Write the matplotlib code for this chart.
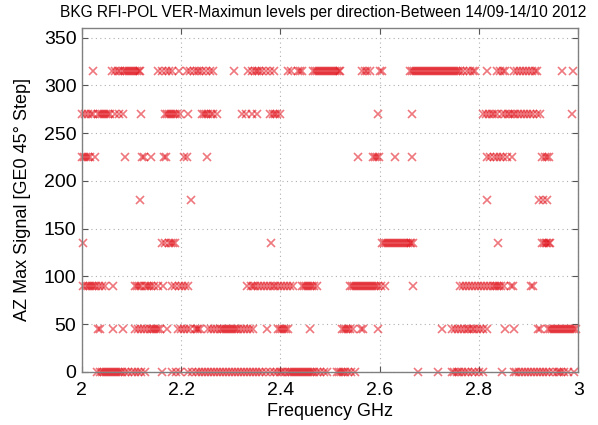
import matplotlib.pyplot as plt

plt.rcParams["font.family"] = ["Liberation Sans", "DejaVu Sans"]

# Frequencies (GHz) where each direction (deg) had the maximum signal
AZ_0 = [2.030, 2.036, 2.040, 2.044, 2.048, 2.052, 2.056, 2.060, 2.064, 2.068,
        2.072, 2.076, 2.080, 2.086, 2.093, 2.100, 2.106, 2.113, 2.120, 2.127,
        2.161, 2.181, 2.190, 2.198,
        2.214, 2.222, 2.230, 2.236, 2.242, 2.248, 2.254, 2.260, 2.266, 2.272,
        2.278, 2.284, 2.290, 2.296, 2.302, 2.308, 2.314, 2.320, 2.326, 2.332,
        2.338, 2.344, 2.350, 2.356, 2.362, 2.370, 2.378, 2.386, 2.393, 2.399,
        2.403, 2.410, 2.416, 2.420, 2.424, 2.428, 2.432, 2.436, 2.440, 2.444,
        2.448, 2.452, 2.456, 2.460, 2.464, 2.468, 2.474, 2.480, 2.487, 2.493,
        2.513, 2.518, 2.522, 2.526, 2.530, 2.536, 2.543, 2.550,
        2.678, 2.718,
        2.745, 2.750, 2.755, 2.760, 2.766, 2.772, 2.778, 2.785, 2.792, 2.800, 2.809,
        2.846,
        2.870, 2.875, 2.880, 2.886, 2.892, 2.898, 2.904, 2.910, 2.916, 2.922,
        2.928, 2.935, 2.942, 2.950, 2.957, 2.962, 2.966, 2.972, 2.980, 2.991]

AZ_45 = [2.033, 2.036, 2.063, 2.083,
         2.107, 2.113, 2.119, 2.125, 2.131, 2.137, 2.142, 2.146, 2.150, 2.154, 2.157,
         2.171, 2.194, 2.200, 2.206, 2.212, 2.218, 2.228, 2.231, 2.234, 2.238,
         2.255, 2.261, 2.267, 2.273, 2.278, 2.282, 2.286, 2.290, 2.294, 2.298,
         2.302, 2.306, 2.310, 2.315, 2.321, 2.327, 2.333, 2.339, 2.345,
         2.372, 2.396, 2.400, 2.404, 2.408, 2.412, 2.416, 2.460,
         2.524, 2.528, 2.532, 2.536, 2.541, 2.547, 2.562, 2.566, 2.597,
         2.725, 2.745, 2.751, 2.757, 2.763, 2.769, 2.775, 2.780, 2.785, 2.790,
         2.796, 2.802, 2.809, 2.816, 2.853, 2.870, 2.918, 2.922,
         2.940, 2.944, 2.948, 2.952, 2.956, 2.960, 2.964, 2.968, 2.972, 2.976,
         2.980, 2.984, 2.988, 2.992, 2.996]

AZ_90 = [2.003, 2.008, 2.013, 2.017, 2.021, 2.025, 2.029, 2.034, 2.040, 2.046,
         2.062, 2.107, 2.111, 2.115, 2.120, 2.127, 2.131, 2.135, 2.140, 2.146, 2.154,
         2.164, 2.181, 2.188, 2.195, 2.202, 2.208, 2.214,
         2.332, 2.340, 2.344, 2.348, 2.354, 2.360, 2.366, 2.372, 2.378, 2.384,
         2.390, 2.396, 2.402, 2.408, 2.414, 2.420, 2.426,
         2.443, 2.447, 2.451, 2.455, 2.459, 2.463, 2.468, 2.473,
         2.540, 2.544, 2.548, 2.552, 2.556, 2.560, 2.564, 2.568, 2.572, 2.576,
         2.580, 2.584, 2.588, 2.592, 2.597, 2.603, 2.611, 2.668,
         2.762, 2.768, 2.774, 2.780, 2.786, 2.792, 2.798, 2.804, 2.810, 2.816,
         2.822, 2.829, 2.833, 2.837, 2.841, 2.845, 2.850, 2.864, 2.868, 2.905, 2.909]

AZ_135 = [2.003, 2.161, 2.168, 2.175, 2.180, 2.184, 2.188, 2.380,
          2.604, 2.608, 2.612, 2.616, 2.620, 2.624, 2.628, 2.632, 2.636, 2.640,
          2.644, 2.648, 2.652, 2.656, 2.660, 2.664, 2.668,
          2.839, 2.927, 2.931, 2.935, 2.938, 2.941, 2.944]

AZ_180 = [2.117, 2.220, 2.816, 2.920, 2.928, 2.936]

AZ_225 = [2.000, 2.004, 2.008, 2.012, 2.016, 2.026, 2.087, 2.122, 2.126, 2.140,
          2.165, 2.170, 2.206, 2.211, 2.251, 2.557, 2.587, 2.591, 2.595, 2.599,
          2.631, 2.665, 2.816, 2.822, 2.830, 2.836, 2.842, 2.848, 2.856, 2.866,
          2.927, 2.932, 2.937, 2.942]

AZ_270 = [2.000, 2.006, 2.012, 2.018, 2.023, 2.033, 2.037, 2.041, 2.045, 2.049,
          2.053, 2.056, 2.067, 2.075, 2.083, 2.120,
          2.167, 2.172, 2.176, 2.180, 2.184, 2.188, 2.191, 2.198, 2.213,
          2.241, 2.245, 2.250, 2.255, 2.260, 2.265, 2.272,
          2.322, 2.330, 2.343, 2.352, 2.379, 2.384, 2.389, 2.394, 2.399,
          2.597, 2.665, 2.809, 2.815, 2.820, 2.826, 2.831, 2.836,
          2.846, 2.852, 2.858, 2.863, 2.868, 2.873, 2.878, 2.884, 2.890, 2.896,
          2.902, 2.909, 2.916, 2.923, 2.987]

AZ_315 = [2.023, 2.060, 2.066, 2.072, 2.077,
          2.083, 2.087, 2.091, 2.095, 2.099, 2.103, 2.107, 2.111, 2.115, 2.117,
          2.154, 2.162, 2.170, 2.176, 2.181, 2.196,
          2.211, 2.218, 2.225, 2.231, 2.236, 2.242, 2.250, 2.258, 2.265, 2.306,
          2.335, 2.342, 2.348, 2.352, 2.356, 2.362, 2.370, 2.378, 2.386,
          2.416, 2.422, 2.436, 2.440, 2.443,
          2.466, 2.470, 2.474, 2.478, 2.482, 2.486, 2.490, 2.494, 2.498, 2.502,
          2.506, 2.510, 2.514, 2.518, 2.520,
          2.564, 2.570, 2.574, 2.581, 2.600, 2.604,
          2.661, 2.665, 2.669, 2.673, 2.677, 2.681, 2.685, 2.689, 2.693, 2.697,
          2.701, 2.705, 2.709, 2.713, 2.717, 2.721, 2.725, 2.729, 2.733, 2.737,
          2.741, 2.745, 2.749, 2.753, 2.757, 2.762,
          2.768, 2.775, 2.782, 2.787, 2.792, 2.816, 2.836, 2.842, 2.848, 2.853,
          2.870, 2.876, 2.882, 2.888, 2.894, 2.900, 2.906, 2.912, 2.917,
          2.967, 2.990]

DIRECTIONS = [0, 45, 90, 135, 180, 225, 270, 315]
FREQS = [AZ_0, AZ_45, AZ_90, AZ_135, AZ_180, AZ_225, AZ_270, AZ_315]

TITLE = "BKG RFI-POL VER-Maximun levels per direction-Between 14/09-14/10 2012"


fig = plt.figure(figsize=(5.98, 4.25), dpi=100)
ax = fig.add_axes([0.137, 0.125, 0.83, 0.809])

for az, fr in zip(DIRECTIONS, FREQS):
    ax.plot(fr, [az] * len(fr), linestyle="none", marker="x", markersize=5.5,
            markeredgewidth=1.2, color="#e00a14", alpha=0.55, clip_on=False)

ax.set_xlim(2, 3)
ax.set_ylim(0, 360)
ax.set_xticks([2, 2.2, 2.4, 2.6, 2.8, 3])
ax.set_xticklabels(["2", "2.2", "2.4", "2.6", "2.8", "3"])
ax.set_yticks(range(0, 351, 50))

ax.grid(True, linestyle=(0, (1, 3)), color="#b0b0b0", linewidth=0.8)
ax.tick_params(direction="in", top=True, right=True, labelsize=14, length=4,
               color="#555555")
ax.tick_params(axis="x", pad=7)
ax.tick_params(axis="y", pad=4)
for sp in ax.spines.values():
    sp.set_color("#808080")
    sp.set_linewidth(1.0)

ax.set_xlabel("Frequency GHz", fontsize=13, labelpad=3)
ax.set_ylabel("AZ Max Signal [GE0 45° Step]", fontsize=13, labelpad=9)

# title sits a bit left of the axes centre in the original
fig.text(323 / 598, 1 - 13 / 425, TITLE, fontsize=11.2, ha="center", va="center")

plt.savefig("out.png", dpi=100)
